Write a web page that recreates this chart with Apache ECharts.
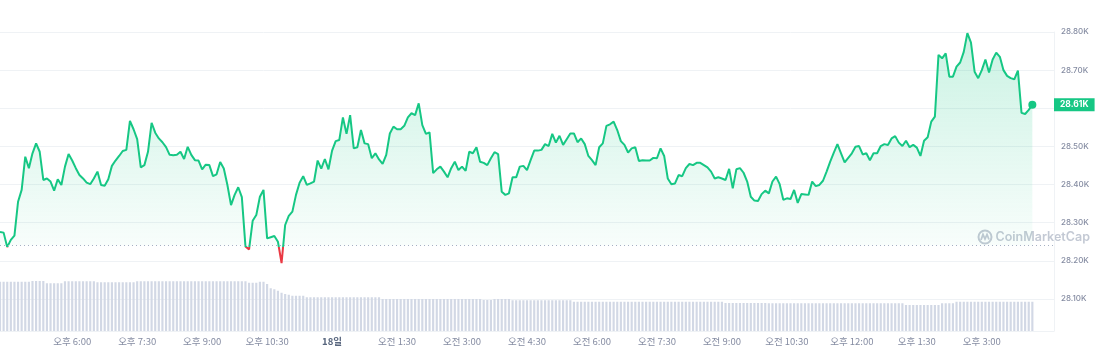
<!DOCTYPE html>
<html>
<head>
<meta charset="utf-8">
<script src="https://cdn.jsdelivr.net/npm/echarts@6/dist/echarts.min.js"></script>
<style>
  html, body { margin: 0; padding: 0; background: #fff; }
  #chart { width: 1098px; height: 352px; }
</style>
</head>
<body>
<div id="chart"></div>
<script>
// 5분 간격, 17일 오후 4:20 부터
const START_MIN = 16 * 60 + 20;
const STEP_MIN = 5;
const PAD_SLOTS = 6; // 오른쪽 빈 공간

const prices = [
  28276, 28274, 28236, 28255, 28266, 28355, 28386, 28473, 28443, 28482,
  28508, 28486, 28412, 28416, 28408, 28384, 28414, 28399, 28447, 28480,
  28463, 28443, 28425, 28416, 28405, 28401, 28416, 28434, 28399, 28397,
  28414, 28449, 28463, 28475, 28488, 28491, 28567, 28545, 28519, 28445,
  28451, 28486, 28562, 28536, 28521, 28511, 28498, 28478, 28477, 28478,
  28486, 28467, 28499, 28478, 28464, 28463, 28440, 28452, 28451, 28422,
  28427, 28459, 28442, 28399, 28346, 28373, 28393, 28367, 28238, 28230,
  28305, 28320, 28368, 28386, 28259, 28262, 28265, 28250, 28194, 28294,
  28318, 28329, 28373, 28405, 28422, 28399, 28403, 28408, 28463, 28442,
  28467, 28440, 28489, 28514, 28517, 28576, 28533, 28582, 28495, 28498,
  28543, 28508, 28506, 28469, 28482, 28466, 28454, 28478, 28534, 28552,
  28545, 28545, 28554, 28576, 28587, 28582, 28613, 28556, 28533, 28537,
  28430, 28440, 28447, 28434, 28419, 28443, 28460, 28438, 28447, 28436,
  28486, 28482, 28498, 28460, 28457, 28451, 28469, 28485, 28480, 28381,
  28373, 28377, 28419, 28419, 28447, 28449, 28438, 28464, 28489, 28489,
  28491, 28506, 28501, 28533, 28510, 28528, 28504, 28519, 28534, 28534,
  28511, 28521, 28506, 28475, 28464, 28451, 28498, 28508, 28554, 28558,
  28565, 28543, 28514, 28504, 28484, 28495, 28498, 28462, 28464, 28463,
  28463, 28470, 28469, 28495, 28475, 28416, 28401, 28403, 28425, 28422,
  28443, 28454, 28451, 28457, 28457, 28451, 28445, 28434, 28416, 28419,
  28416, 28412, 28441, 28390, 28440, 28443, 28431, 28408, 28368, 28358,
  28357, 28375, 28384, 28377, 28408, 28421, 28401, 28360, 28364, 28362,
  28386, 28352, 28375, 28374, 28373, 28408, 28396, 28399, 28410, 28434,
  28460, 28484, 28506, 28482, 28458, 28470, 28482, 28499, 28501, 28479,
  28482, 28464, 28482, 28482, 28501, 28506, 28504, 28521, 28527, 28510,
  28501, 28515, 28498, 28504, 28497, 28475, 28515, 28524, 28565, 28578,
  28740, 28731, 28744, 28683, 28683, 28709, 28720, 28748, 28797, 28772,
  28696, 28679, 28700, 28728, 28694, 28728, 28746, 28735, 28700, 28685,
  28679, 28676, 28699, 28588, 28585, 28596, 28609
];

// 거래량 (B)
const volumes = [
  19.7, 19.7, 19.7, 19.7, 19.7, 19.7, 19.7, 19.7, 19.7, 20.0,
  20.0, 20.0, 20.0, 19.1, 19.1, 19.1, 19.1, 19.1, 19.9, 19.9,
  19.9, 19.9, 19.9, 19.9, 19.9, 19.9, 19.9, 19.5, 19.5, 19.5,
  19.5, 19.5, 19.5, 19.5, 19.5, 19.5, 19.5, 19.5, 19.9, 19.9,
  19.9, 19.9, 19.9, 19.9, 19.9, 19.9, 19.9, 19.9, 19.9, 19.9,
  19.9, 19.9, 19.9, 19.9, 19.9, 19.9, 19.9, 19.9, 19.9, 19.9,
  19.9, 19.9, 19.9, 19.9, 19.9, 19.9, 19.9, 19.9, 19.9, 19.3,
  19.3, 19.3, 19.7, 19.7, 18.8, 17.1, 16.7, 16.1, 15.3, 14.8,
  14.5, 14.1, 14.1, 14.1, 14.1, 13.5, 13.5, 13.5, 13.5, 13.5,
  13.5, 13.5, 13.5, 13.5, 13.5, 13.5, 13.5, 13.5, 13.5, 13.5,
  13.5, 13.5, 13.5, 13.5, 13.5, 13.5, 12.8, 12.8, 12.8, 12.8,
  12.8, 12.8, 12.8, 12.8, 12.8, 12.8, 12.8, 12.8, 12.8, 12.8,
  12.8, 12.8, 12.8, 12.8, 12.8, 12.8, 12.8, 12.8, 12.8, 12.8,
  12.8, 12.8, 12.8, 12.8, 12.4, 12.4, 12.4, 12.8, 12.8, 12.8,
  12.8, 12.8, 12.3, 12.3, 12.3, 12.3, 12.3, 12.3, 12.3, 12.3,
  12.3, 12.3, 12.3, 12.3, 12.3, 12.3, 12.3, 12.3, 12.3, 11.7,
  11.7, 11.7, 11.7, 11.7, 11.7, 11.7, 11.7, 11.7, 11.7, 11.7,
  11.7, 11.7, 11.7, 11.7, 11.7, 11.7, 11.7, 11.7, 11.7, 11.7,
  11.7, 11.7, 11.7, 11.7, 11.7, 11.7, 11.7, 11.7, 11.7, 11.7,
  11.7, 11.7, 11.7, 11.7, 11.7, 11.7, 11.7, 11.7, 11.7, 11.7,
  11.7, 11.2, 11.2, 11.2, 11.2, 11.2, 11.2, 11.2, 11.2, 11.2,
  11.2, 11.2, 11.2, 11.1, 11.1, 11.1, 11.1, 11.1, 11.1, 11.1,
  11.1, 11.1, 11.1, 11.1, 11.1, 11.1, 11.1, 11.1, 11.1, 11.1,
  11.1, 11.1, 11.1, 11.1, 11.1, 11.1, 11.1, 11.1, 11.1, 11.1,
  11.1, 11.1, 11.1, 11.1, 11.1, 11.1, 11.1, 11.1, 11.1, 11.1,
  11.1, 10.4, 10.4, 10.4, 10.4, 10.4, 10.4, 10.4, 10.4, 10.4,
  10.4, 11.1, 11.1, 11.1, 11.1, 11.7, 11.7, 11.7, 11.7, 11.7,
  11.7, 11.7, 11.7, 11.7, 11.7, 11.7, 11.7, 11.7, 11.7, 11.7,
  11.7, 11.7, 11.7, 11.7, 11.7, 11.7, 11.7
];

const openPrice = 28241;
const yMin = 28100, yMax = 28800, yStep = 100;

const xLabels = [
  '오후 6:00', '오후 7:30', '오후 9:00', '오후 10:30', '18일',
  '오전 1:30', '오전 3:00', '오전 4:30', '오전 6:00', '오전 7:30',
  '오전 9:00', '오전 10:30', '오후 12:00', '오후 1:30', '오후 3:00'
];

function timeLabel(i) {
  const m = START_MIN + i * STEP_MIN;
  const day = m >= 1440 ? 18 : 17;
  const mm = m % 1440;
  const h = Math.floor(mm / 60), mi = mm % 60;
  if (h === 0 && mi === 0) return day + '일';
  const ampm = h < 12 ? '오전' : '오후';
  const h12 = h % 12 === 0 ? 12 : h % 12;
  return ampm + ' ' + h12 + ':' + String(mi).padStart(2, '0');
}

const categories = [];
for (let i = 0; i < prices.length + PAD_SLOTS; i++) categories.push(timeLabel(i));

const lastIdx = prices.length - 1;
const lastPrice = prices[lastIdx];

const GREEN = '#16c784';
const RED = '#ea3943';
const GRID_LINE = '#eff2f5';

// 선 색: 시가 아래는 빨강 (선의 bbox 기준 그라데이션)
const pMax = Math.max(...prices), pMin = Math.min(...prices);
const cut = (pMax - openPrice) / (pMax - pMin);
const lineColor = new echarts.graphic.LinearGradient(0, 0, 0, 1, [
  { offset: 0, color: GREEN },
  { offset: cut, color: GREEN },
  { offset: cut, color: RED },
  { offset: 1, color: RED }
]);

const chart = echarts.init(document.getElementById('chart'));

chart.setOption({
  animation: false,
  grid: [
    { left: 0, right: 44, top: 32, bottom: 53 },
    { left: 0, right: 44, top: 231, bottom: 21 }
  ],
  xAxis: [
    {
      type: 'category',
      gridIndex: 0,
      data: categories,
      boundaryGap: false,
      show: false
    },
    {
      type: 'category',
      gridIndex: 1,
      data: categories,
      boundaryGap: false,
      axisLine: { show: true, lineStyle: { color: GRID_LINE } },
      axisTick: { show: false },
      axisLabel: {
        interval: (idx, value) => xLabels.includes(value),
        margin: 6,
        fontSize: 9.5,
        fontFamily: 'Noto Sans CJK KR',
        color: '#858ca2',
        formatter: (value) => value.endsWith('일') ? '{b|' + value + '}' : value,
        rich: {
          b: { fontSize: 9.5, fontWeight: 'bold', color: '#58667e', fontFamily: 'Noto Sans CJK KR' }
        }
      }
    }
  ],
  yAxis: [
    {
      type: 'value',
      gridIndex: 0,
      position: 'right',
      min: yMin,
      max: yMax,
      interval: yStep,
      axisLine: { show: true, lineStyle: { color: GRID_LINE } },
      axisTick: { show: false },
      splitLine: { lineStyle: { color: GRID_LINE } },
      axisLabel: {
        margin: 7,
        fontSize: 8,
        fontWeight: 500,
        fontFamily: 'Inter',
        color: '#858ca2',
        formatter: (v) => (v / 1000).toFixed(2) + 'K'
      }
    },
    {
      type: 'value',
      gridIndex: 1,
      position: 'right',
      min: 0,
      max: 40,
      axisLine: { show: true, lineStyle: { color: GRID_LINE } },
      axisTick: { show: false },
      axisLabel: { show: false },
      splitLine: { show: false }
    }
  ],
  series: [
    {
      name: '가격',
      type: 'line',
      xAxisIndex: 0,
      yAxisIndex: 0,
      data: prices,
      showSymbol: false,
      symbol: 'none',
      z: 3,
      lineStyle: { width: 2, color: lineColor },
      areaStyle: {
        origin: openPrice,
        color: new echarts.graphic.LinearGradient(0, 0, 0, 1, [
          { offset: 0, color: 'rgba(22, 199, 132, 0.32)' },
          { offset: 1, color: 'rgba(22, 199, 132, 0.02)' }
        ])
      },
      markLine: {
        silent: true,
        symbol: 'none',
        animation: false,
        data: [
          {
            yAxis: openPrice,
            lineStyle: { color: '#a6b0c3', width: 1, type: [1, 3] },
            label: { show: false }
          },
          {
            yAxis: lastPrice,
            lineStyle: { color: 'rgba(0,0,0,0)', width: 0 },
            label: {
              show: true,
              position: 'end',
              distance: 0,
              formatter: (lastPrice / 1000).toFixed(2) + 'K',
              backgroundColor: GREEN,
              color: '#fff',
              fontSize: 8.5,
              fontWeight: 'bold',
              fontFamily: 'Inter',
              lineHeight: 8,
              padding: [2.5, 6]
            }
          }
        ]
      },
      markPoint: {
        silent: true,
        symbol: 'circle',
        symbolSize: 8,
        itemStyle: { color: GREEN },
        label: { show: false },
        data: [{ coord: [lastIdx, lastPrice] }]
      }
    },
    {
      name: '거래량',
      type: 'bar',
      xAxisIndex: 1,
      yAxisIndex: 1,
      data: volumes,
      barWidth: '60%',
      itemStyle: { color: '#d2d8e5' },
      z: 1
    }
  ],
  graphic: [
    {
      type: 'group',
      left: 976,
      top: 228,
      children: [
        {
          type: 'circle',
          shape: { cx: 7.5, cy: 8, r: 6.5 },
          style: { fill: 'none', stroke: '#c3c9d4', lineWidth: 2 }
        },
        {
          type: 'polyline',
          shape: { points: [[3.5, 11], [5.5, 5.5], [7.5, 10], [9.5, 5.5], [11.5, 10.5]] },
          style: { fill: 'none', stroke: '#c3c9d4', lineWidth: 1.8 }
        },
        {
          type: 'text',
          x: 18,
          y: 8,
          style: {
            text: 'CoinMarketCap',
            fill: '#c3c9d4',
            fontSize: 12.5,
            fontWeight: 600,
            fontFamily: 'Inter',
            verticalAlign: 'middle'
          }
        }
      ]
    }
  ]
});
</script>
</body>
</html>
